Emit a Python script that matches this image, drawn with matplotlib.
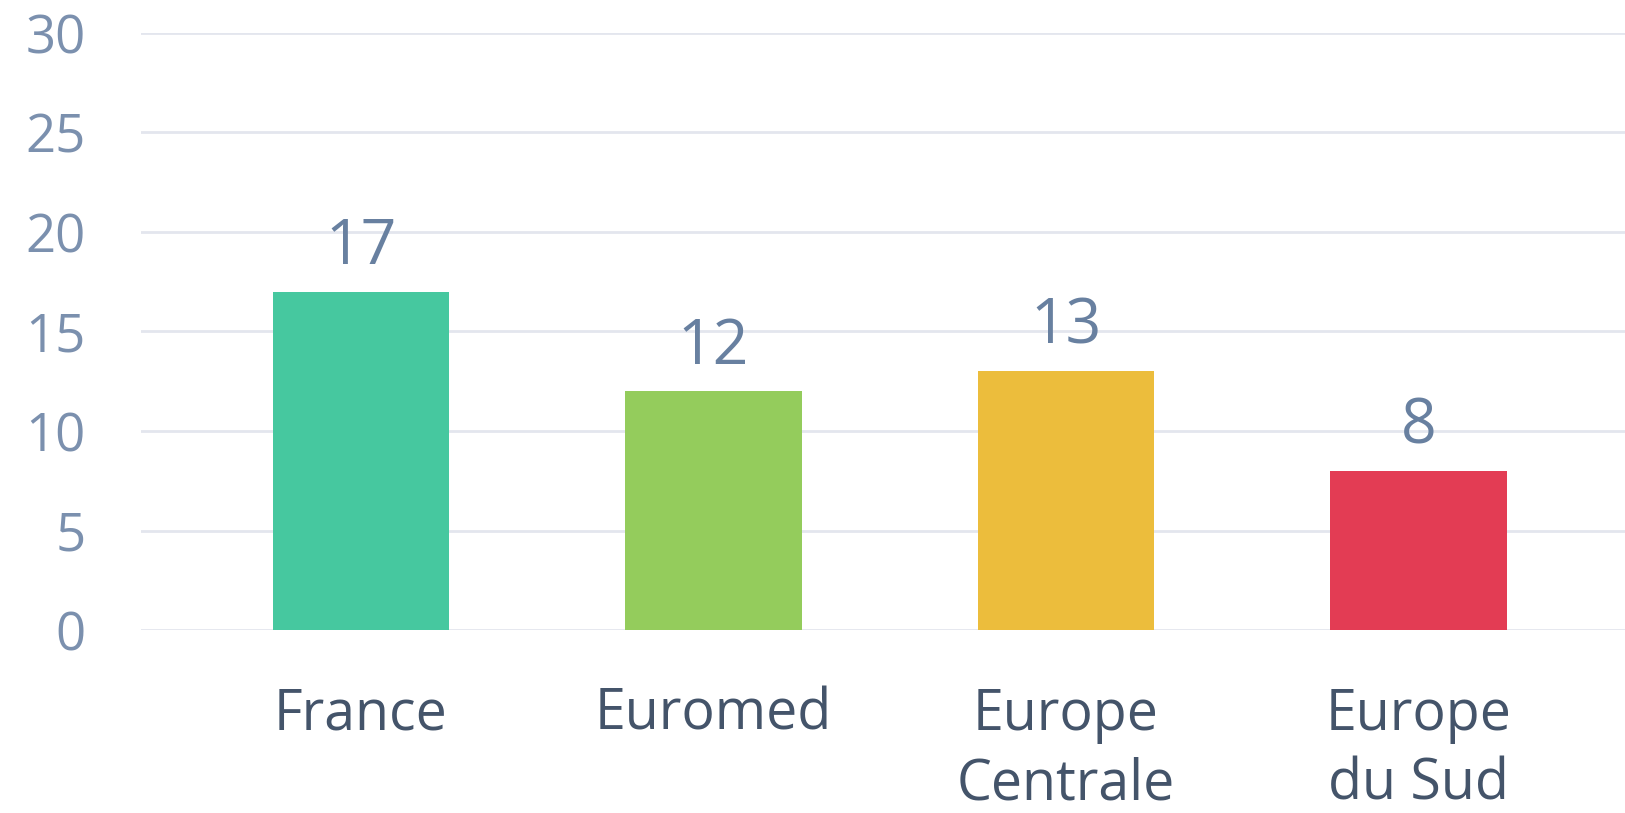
import matplotlib.pyplot as plt
import numpy as np

plt.rcParams['font.family'] = ['Open Sans', 'DejaVu Sans']

regions = ['France', 'Euromed', 'Europe\nCentrale', 'Europe\ndu Sud']
counts = [17, 12, 13, 8]
colors = ['#46c89f', '#94cc5c', '#ecbd3c', '#e33c54']

fig = plt.figure(figsize=(16.25, 8.13), dpi=100)
ax = fig.add_axes([141 / 1625, 1 - 630 / 813, 1 - 141 / 1625, (630 - 33) / 813])

x = np.arange(len(regions))
bars = ax.bar(x, counts, width=0.5, color=colors, zorder=2)

for b, v in zip(bars, counts):
    ax.annotate(str(v), (b.get_x() + b.get_width() / 2, v),
                xytext=(0, 9), textcoords='offset points',
                ha='center', va='bottom', fontsize=45, color='#6880a0', zorder=3)

ax.set_ylim(0, 30)
ax.set_xlim(-0.624, 3.586)
ax.set_yticks(np.arange(0, 31, 5))
ax.set_xticks(x)
ax.set_xticklabels(regions, fontsize=40, color='#44546a', linespacing=1.3)
ax.tick_params(axis='y', length=0, pad=40, labelsize=38, labelcolor='#7b90ae')
ax.tick_params(axis='x', length=0, pad=41)
ax.grid(axis='y', color='#e3e6ee', linewidth=2, zorder=0)
ax.set_axisbelow(True)
for s in ax.spines.values():
    s.set_visible(False)

fig.savefig('out.png', dpi=100)
